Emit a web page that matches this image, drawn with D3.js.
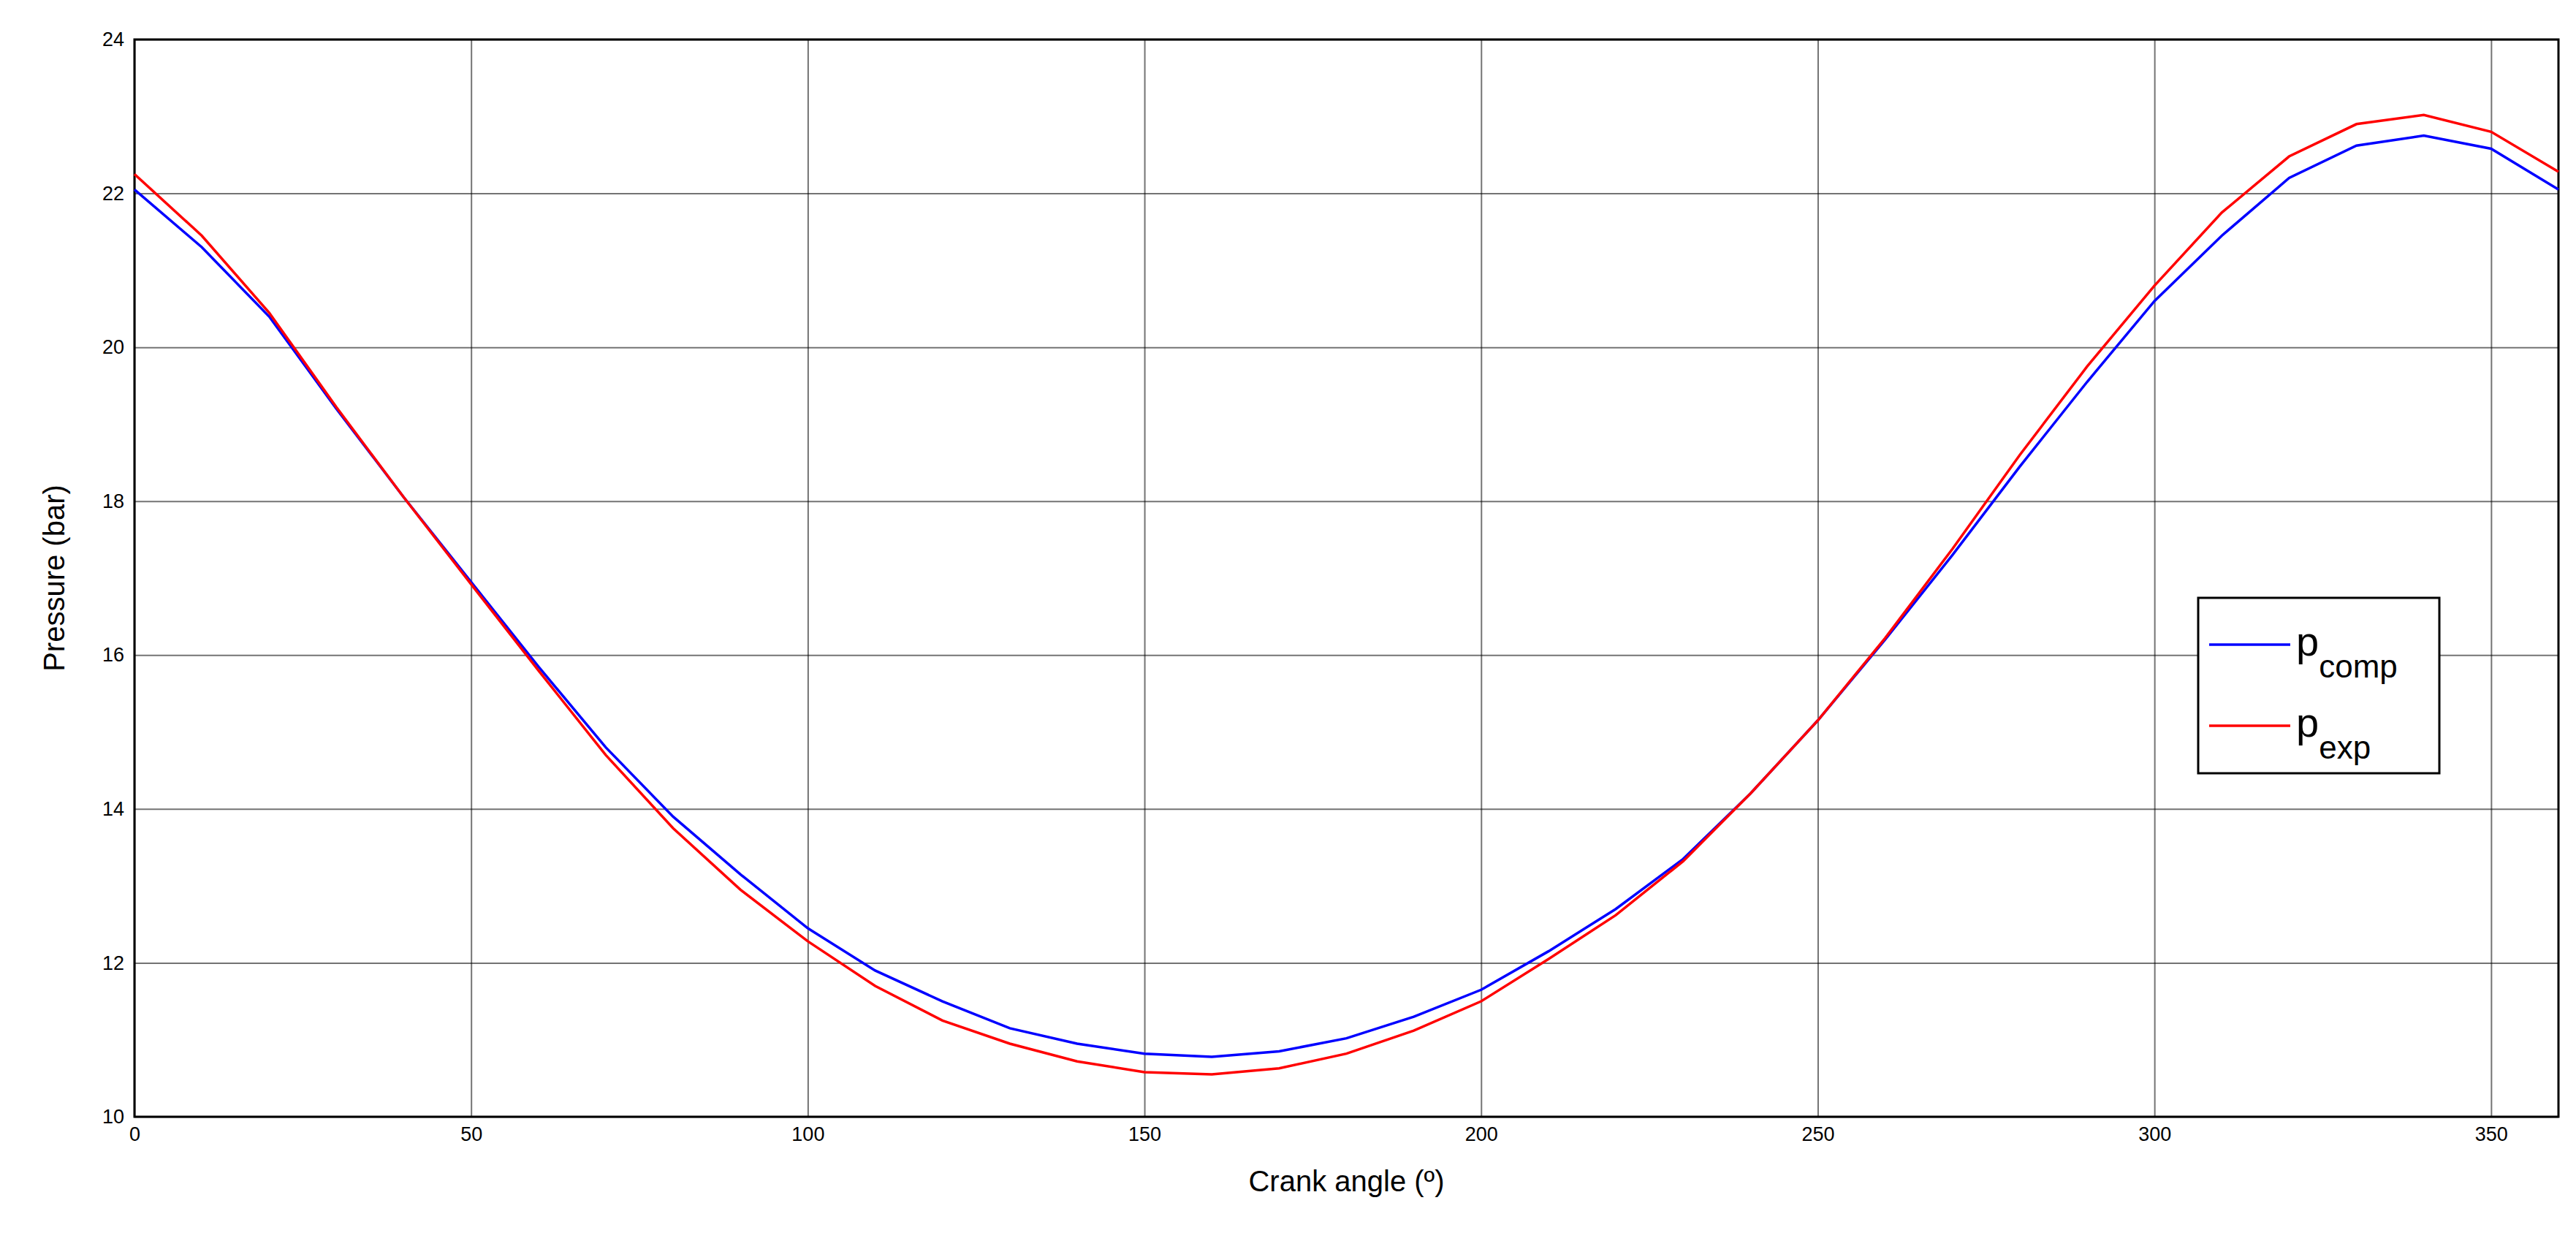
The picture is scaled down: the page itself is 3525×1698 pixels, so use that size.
<!DOCTYPE html>
<html><head><meta charset="utf-8">
<script src="https://cdn.jsdelivr.net/npm/d3@7"></script>
<style>body{margin:0;background:#fff}</style></head>
<body><svg id="c" width="3525" height="1698"></svg>
<script>
const angles = d3.range(0, 361, 10);
const pComp = [22.05,21.3,20.4,19.2,18.05,16.95,15.85,14.8,13.9,13.15,12.45,11.9,11.5,11.15,10.95,10.82,10.78,10.85,11.02,11.3,11.65,12.15,12.7,13.35,14.2,15.15,16.2,17.3,18.45,19.55,20.6,21.45,22.2,22.62,22.75,22.58,22.05];
const pExp = [22.25,21.45,20.45,19.22,18.05,16.92,15.8,14.7,13.75,12.95,12.28,11.7,11.25,10.95,10.72,10.58,10.55,10.63,10.82,11.12,11.5,12.05,12.62,13.32,14.2,15.15,16.22,17.38,18.6,19.75,20.8,21.75,22.48,22.9,23.02,22.8,22.28];
const xTicks = [0,50,100,150,200,250,300,350];
const yTicks = [10,12,14,16,18,20,22,24];

const L=184,R=3501,T=54,B=1528;
const svg=d3.select("#c");
const x=d3.scaleLinear().domain([0,360]).range([L,R]);
const y=d3.scaleLinear().domain([10,24]).range([B,T]);
const font="'Liberation Sans Narrow','Liberation Sans',Arial,sans-serif";

const gx=svg.append("g").attr("transform",`translate(0,${B})`)
 .call(d3.axisBottom(x).tickValues(xTicks).tickSize(-(B-T)).tickPadding(14));
const gy=svg.append("g").attr("transform",`translate(${L},0)`)
 .call(d3.axisLeft(y).tickValues(yTicks).tickSize(-(R-L)).tickPadding(14));
[gx,gy].forEach(g=>{
 g.select(".domain").remove();
 g.selectAll(".tick line").attr("stroke","#000").attr("stroke-width",2).attr("opacity",0.55);
 g.selectAll(".tick text").attr("font-family",font).attr("font-size",27).attr("fill","#000");
});
svg.append("rect").attr("x",L).attr("y",T).attr("width",R-L).attr("height",B-T)
 .attr("fill","none").attr("stroke","#000").attr("stroke-width",3);

const line=d3.line().x((d,i)=>x(angles[i])).y(d=>y(d));
svg.append("path").datum(pComp).attr("d",line).attr("fill","none").attr("stroke","#0000ff").attr("stroke-width",3.5);
svg.append("path").datum(pExp).attr("d",line).attr("fill","none").attr("stroke","#ff0000").attr("stroke-width",3.5);

svg.append("text").attr("x",(L+R)/2).attr("y",1630).attr("text-anchor","middle")
 .attr("font-family","'Liberation Sans',Arial,sans-serif").attr("font-size",40).text("Crank angle (º)");
svg.append("text").attr("transform",`translate(88,${(T+B)/2}) rotate(-90)`).attr("text-anchor","middle")
 .attr("font-family","'Liberation Sans',Arial,sans-serif").attr("font-size",40).text("Pressure (bar)");

// legend
const lg=svg.append("g");
lg.append("rect").attr("x",3008).attr("y",818).attr("width",330).attr("height",240)
 .attr("fill","#fff").attr("stroke","#000").attr("stroke-width",3);
const items=[["comp","#0000ff",882],["exp","#ff0000",993]];
items.forEach(([s,c,yy])=>{
 lg.append("line").attr("x1",3023).attr("x2",3134).attr("y1",yy).attr("y2",yy).attr("stroke",c).attr("stroke-width",3.5);
 const t=lg.append("text").attr("x",3142).attr("y",yy+15).attr("font-family","'Liberation Sans',Arial,sans-serif").attr("font-size",56);
 t.append("tspan").text("p");
 t.append("tspan").attr("dy",30).attr("font-size",44).text(s);
});
</script></body></html>
